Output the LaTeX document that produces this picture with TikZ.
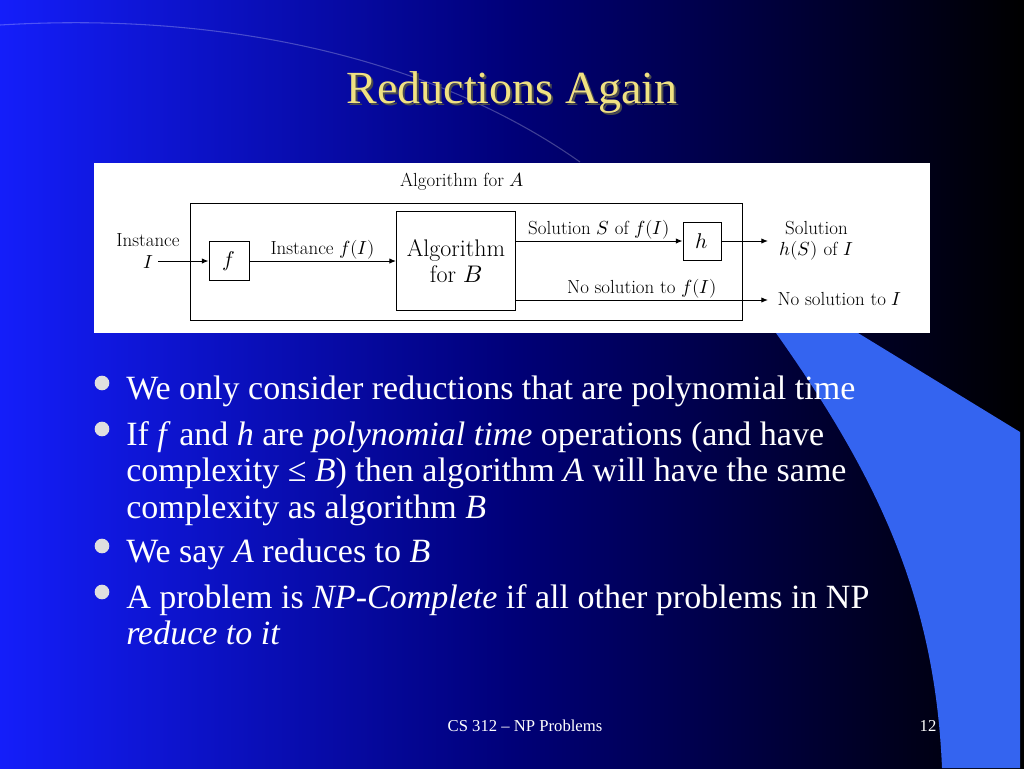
\documentclass[tikz,border=0pt]{standalone}
\usepackage{fontspec}
\setmainfont{Liberation Serif}
\newfontfamily\lmfont{Latin Modern Roman}
\usepackage{unicode-math}
\usetikzlibrary{positioning,arrows.meta}
\definecolor{slideblue}{RGB}{20,30,250}
\definecolor{slidenavy}{RGB}{0,0,120}
\definecolor{waveblue}{RGB}{52,100,240}
\definecolor{titleyellow}{RGB}{240,225,130}
\tikzset{
  blk/.style={draw,line width=0.7pt,inner sep=0pt},
  lbl/.style={font=\lmfont\fontsize{14.2}{16}\selectfont,inner sep=1pt},
  flow/.style={->,>={Latex[length=5pt,width=4pt]},line width=0.7pt},
  body/.style={anchor=base west,text=white,inner sep=0pt,font=\fontsize{25.5}{29}\selectfont},
  dot/.style={circle,fill=gray!25,inner sep=0pt,minimum size=11pt}
}
\begin{document}
\begin{tikzpicture}[x=0.75pt,y=-0.75pt]
\useasboundingbox (0,0) rectangle (1024,768);
% background
\shade[left color=slideblue,right color=black,middle color=slidenavy] (0,0) rectangle (1024,768);
\fill[waveblue] (776,333) .. controls (880,480) and (935,600) .. (942,768) -- (1020,768) -- (1020,432) -- (858,333) -- cycle;
\draw[white,opacity=0.25,line width=0.8pt] (0,25) .. controls (250,10) and (450,70) .. (580,162);
% title
\node[text=black!70,font=\fontsize{34.5}{38}\selectfont] at (514,95) {Reductions Again};
\node (title) [text=titleyellow,font=\fontsize{34.5}{38}\selectfont] at (512,93) {Reductions Again};
% diagram
\fill[white] (94,163) rectangle (930,333);
\draw[line width=0.7pt] (190,203) rectangle (742,320);
\node (fbox) [blk,minimum width=40*0.75pt,minimum height=39*0.75pt] at (229,261) {\lmfont\fontsize{16}{18}\selectfont$f$};
\node (bbox) [blk,minimum width=119*0.75pt,minimum height=99*0.75pt,align=center,font=\lmfont\fontsize{18}{20}\selectfont] at (456,261) {Algorithm\\for $B$};
\node (hbox) [blk,minimum width=38*0.75pt,minimum height=38*0.75pt] at (702,241) {\lmfont\fontsize{16}{18}\selectfont$h$};
\node (algA) [lbl] at (462,182) {Algorithm for $A$};
\node (inst) [lbl,align=center] at (148,251) {Instance\\$I$};
\coordinate (inI) at (158,261);
\coordinate (outS) at (768,241);
\coordinate (outN) at (768,300);
\draw[flow] (inI) -- (fbox);
\draw[flow] (fbox) -- node[lbl,above]{Instance $f(I)$} (bbox);
\draw[flow] (bbox.east |- hbox) -- node[lbl,above]{Solution $S$ of $f(I)$} (hbox);
\draw[flow] (hbox) -- (outS);
\draw[flow] (bbox.east |- outN) -- node[lbl,above,pos=0.5]{No solution to $f(I)$} (outN);
\node (solH) [lbl,align=center,anchor=west] at (778,241) {Solution\\$h(S)$ of $I$};
\node (noI) [lbl,anchor=west] at (776,299) {No solution to $I$};
% bullets
\foreach \y in {390,436,553,599} \node[dot] at (102,\y-7) {};
\node[body] at (126,399) {We only consider reductions that are polynomial time};
\node[body] at (126,445) {If \textit{f} and \textit{h} are \textit{polynomial time} operations (and have};
\node[body] at (126,481) {complexity ≤ \textit{B}) then algorithm \textit{A} will have the same};
\node[body] at (126,518) {complexity as algorithm \textit{B}};
\node[body] at (126,562) {We say \textit{A} reduces to \textit{B}};
\node[body] at (126,608) {A problem is \textit{NP-Complete} if all other problems in NP};
\node[body] at (126,644) {\textit{reduce to it}};
% footer
\node (foot) [text=white,font=\fontsize{12.5}{14}\selectfont] at (525,726) {CS 312 – NP Problems};
\node (page) [text=white,font=\fontsize{12.5}{14}\selectfont] at (928,726) {12};
\end{tikzpicture}
\end{document}
